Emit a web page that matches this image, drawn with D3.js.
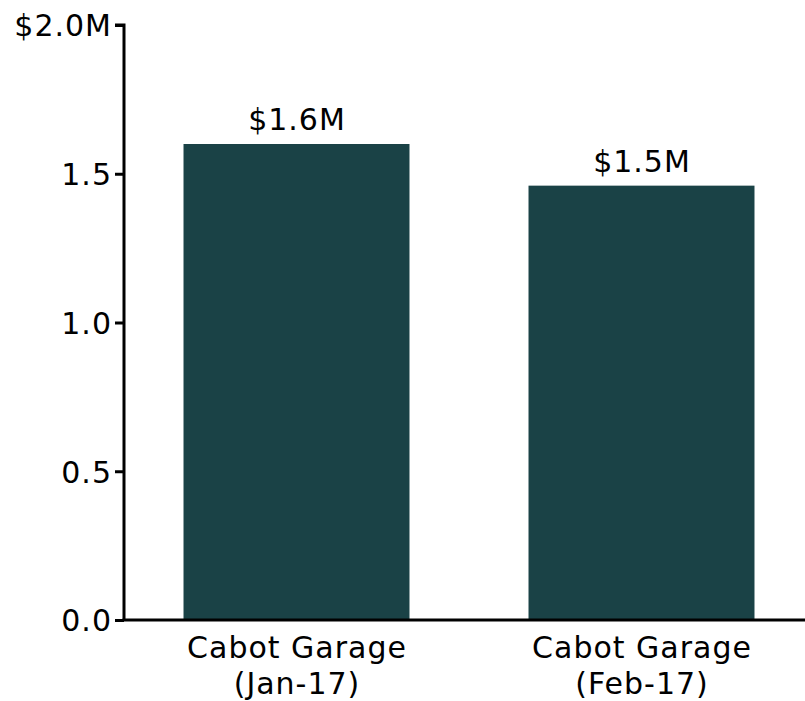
<!DOCTYPE html>
<html><head><meta charset="utf-8">
<script src="https://cdn.jsdelivr.net/npm/d3@7"></script>
<style>body{margin:0;background:#fff}svg{display:block}text{font-family:"DejaVu Sans",Verdana,sans-serif;fill:#000;letter-spacing:1px}</style>
</head><body>
<script>
const categories = [["Cabot Garage","(Jan-17)"],["Cabot Garage","(Feb-17)"]];
const values = [1.6, 1.46];
const valueLabels = ["$1.6M","$1.5M"];
const yTicks = [0, 0.5, 1.0, 1.5, 2.0];
const yTickLabels = ["0.0","0.5","1.0","1.5","$2.0M"];

const W = 805, H = 701;
const svg = d3.select("body").append("svg").attr("width", W).attr("height", H);
const x0 = 124, yBase = 620, yTop = 25;
const x = d3.scaleBand().domain(d3.range(categories.length)).range([x0, x0 + 690])
  .paddingInner(0.345).paddingOuter(0.1725);
const y = d3.scaleLinear().domain([0, 2]).range([yBase, yTop]);
const fs = 30;

svg.selectAll("rect.bar").data(values).join("rect").attr("class","bar")
  .attr("x",(d,i)=>x(i)).attr("width",x.bandwidth())
  .attr("y",d=>y(d)).attr("height",d=>yBase-y(d)).attr("fill","#1a4246");

svg.selectAll("text.val").data(values).join("text").attr("class","val")
  .attr("x",(d,i)=>x(i)+x.bandwidth()/2+0.5).attr("y",d=>y(d)-14)
  .attr("text-anchor","middle").style("font-size",fs+"px").text((d,i)=>valueLabels[i]);

const yAxis = d3.axisLeft(y).tickValues(yTicks).tickFormat((d,i)=>yTickLabels[i]).tickSize(9).tickPadding(3);
const gy = svg.append("g").attr("transform",`translate(${x0},0)`).call(yAxis);
gy.select(".domain").attr("stroke","#000").attr("stroke-width",3).attr("d",`M-9,${yTop}H0V${yBase}`);
gy.selectAll(".tick line").attr("stroke","#000").attr("stroke-width",3);
gy.selectAll(".tick text").style("font-size",fs+"px").attr("font-family",null).attr("fill","#000").attr("dy","0.36em");

svg.append("line").attr("x1",x0-1.5).attr("x2",W).attr("y1",yBase).attr("y2",yBase).attr("stroke","#000").attr("stroke-width",3);

const xl = svg.selectAll("text.cat").data(categories).join("text").attr("class","cat")
  .attr("text-anchor","middle").style("font-size",fs+"px");
xl.each(function(d,i){
  const t = d3.select(this);
  d.forEach((line,j)=>t.append("tspan").attr("x",x(i)+x.bandwidth()/2+0.5).attr("y",yBase+38+j*36).text(line));
});
</script>
</body></html>
